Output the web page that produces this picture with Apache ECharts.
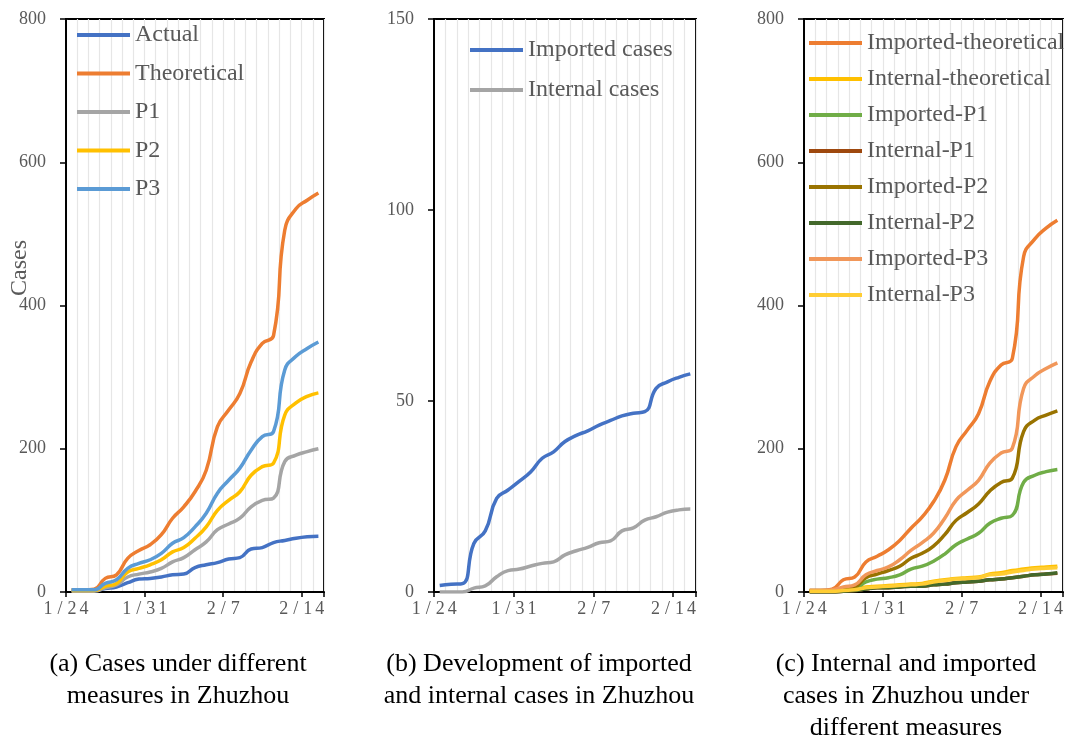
<!DOCTYPE html>
<html>
<head>
<meta charset="utf-8">
<script src="https://cdn.jsdelivr.net/npm/echarts@6/dist/echarts.min.js"></script>
<style>
html,body{margin:0;padding:0;background:#fff;}
#chart{width:1070px;height:738px;}
</style>
</head>
<body>
<div id="chart"></div>
<script>
// ---- data ----
const dates = ['1/24','1/25','1/26','1/27','1/28','1/29','1/30','1/31','2/1','2/2','2/3','2/4','2/5','2/6','2/7','2/8','2/9','2/10','2/11','2/12','2/13','2/14','2/15'];

// (a) Cases under different measures
const actual      = [2,2,2,5,7,13,18,19,21,24,25,34,38,41,46,48,60,62,69,72,75,77,78];
const theoretical = [3,3,4,19,24,47,58,66,80,103,119,140,170,231,254,277,321,347,358,505,535,547,557];
const p1          = [1,1,1,6,10,21,25,28,33,42,48,59,70,87,95,103,119,128,131,182,191,196,200];
const p2          = [2,2,2,8,12,28,33,38,45,56,62,75,91,114,128,140,163,175,180,247,264,273,278];
const p3          = [3,3,3,12,17,33,40,45,54,68,76,91,110,138,156,173,198,217,224,310,329,340,349];

// (b) Imported and internal cases
const importedCases = [1.7,2,2.2,12.7,16,24.5,26.7,29,31.5,35,36.7,39.4,41,42.2,43.7,44.9,46.1,46.8,47.2,53.3,55,56.2,57.1];
const internalCases = [0,0,0,1,1.6,4,5.6,6,6.8,7.5,7.9,9.7,10.8,11.7,12.9,13.4,16,16.8,18.8,19.7,20.9,21.5,21.7];

// (c) Internal and imported cases under different measures
const impTheo = [2,2,4,17,21,42,50,59,72,89,105,126,156,203,226,249,294,317,326,468,493,508,519];
const intTheo = [1,1,1,2,3,7,8,9,10,11,12,15,17,19,20,21,25,27,30,32,34,35,36];
const impP1   = [1,1,1,4,5,14,18,20,24,32,36,43,53,66,74,82,96,103,107,153,163,168,171];
const intP1   = [0,0,0,1,2,4,6,6,7,8,8,10,11,13,14,15,17,18,20,22,24,25,26];
const impP2   = [2,2,2,5,7,20,25,30,36,47,54,64,80,100,111,123,141,153,159,224,240,247,253];
const intP2   = [0,0,0,1,2,4,6,6,7,8,8,10,11,13,14,15,17,18,20,22,24,25,27];
const impP3   = [2,2,3,7,10,24,30,35,45,58,69,82,103,128,142,156,180,194,201,284,302,312,320];
const intP3   = [1,1,1,2,3,6,7,8,9,10,11,14,16,18,19,20,24,25,28,30,32,33,34];

// tick settings
const yMaxA = 800, yIntA = 200;
const yMaxB = 150, yIntB = 50;
const yMaxC = 800, yIntC = 200;

const captions = [
  '(a) Cases under different\nmeasures in Zhuzhou',
  '(b) Development of imported\nand internal cases in Zhuzhou',
  '(c) Internal and imported\ncases in Zhuzhou under\ndifferent measures'
];

// ---- chart ----
const FONT = '"Liberation Serif", "Times New Roman", serif';
const GRAY = '#595959';

const grids = [
  {left: 66, top: 19, width: 258, height: 573},
  {left: 434, top: 19, width: 262, height: 573},
  {left: 804, top: 19, width: 259, height: 573}
];

function xAxis(i) {
  return {
    type: 'category', gridIndex: i, data: dates, boundaryGap: true,
    axisLine: {show: true, lineStyle: {color: '#000', width: 2}},
    axisTick: {show: true, interval: 6, length: 5, lineStyle: {color: '#000', width: 1.5}},
    axisLabel: {
      interval: 6, margin: 8, color: GRAY, fontFamily: FONT, fontSize: 18,
      padding: [0, 11, 0, 0],
      formatter: function (v) { return v.split('').map(c => '{c|' + c + '}').join(''); },
      rich: {c: {width: 12, align: 'center', color: GRAY, fontFamily: FONT, fontSize: 18}}
    },
    splitLine: {show: true, interval: 0, lineStyle: {color: '#e6e6e6', width: 1.2}}
  };
}
function yAxis(i, max, interval) {
  return {
    type: 'value', gridIndex: i, min: 0, max: max, interval: interval,
    axisLine: {show: true, lineStyle: {color: '#000', width: 2}},
    axisTick: {show: true, length: 6, lineStyle: {color: '#000', width: 1.5}},
    axisLabel: {margin: 20, color: GRAY, fontFamily: FONT, fontSize: 18},
    splitLine: {show: false}
  };
}
function line(name, data, color, gi) {
  return {
    name: name, type: 'line', data: data, xAxisIndex: gi, yAxisIndex: gi,
    smooth: true, symbol: 'none', showSymbol: false,
    lineStyle: {color: color, width: 3.5}, itemStyle: {color: color},
    emphasis: {disabled: true}
  };
}
function legend(names, left, top, gap) {
  return {
    data: names, orient: 'vertical', left: left, top: top, padding: 0,
    itemGap: gap, itemWidth: 53, itemHeight: 4, icon: 'rect', selectedMode: false,
    textStyle: {color: GRAY, fontFamily: FONT, fontSize: 24, lineHeight: 26}
  };
}

const option = {
  animation: false,
  backgroundColor: '#fff',
  grid: grids.map(g => Object.assign({show: true, borderColor: '#000', borderWidth: 2, backgroundColor: 'transparent'}, g)),
  xAxis: [xAxis(0), xAxis(1), xAxis(2)],
  yAxis: [yAxis(0, yMaxA, yIntA), yAxis(1, yMaxB, yIntB), yAxis(2, yMaxC, yIntC)],
  legend: [
    legend(['Actual','Theoretical','P1','P2','P3'], 77, 22, 12.5),
    legend(['Imported cases','Internal cases'], 470, 37, 14),
    legend(['Imported-theoretical','Internal-theoretical','Imported-P1','Internal-P1','Imported-P2','Internal-P2','Imported-P3','Internal-P3'], 809, 30, 10)
  ],
  series: [
    line('Actual', actual, '#4472C4', 0),
    line('Theoretical', theoretical, '#ED7D31', 0),
    line('P1', p1, '#A5A5A5', 0),
    line('P2', p2, '#FFC000', 0),
    line('P3', p3, '#5B9BD5', 0),
    line('Imported cases', importedCases, '#4472C4', 1),
    line('Internal cases', internalCases, '#A5A5A5', 1),
    line('Imported-theoretical', impTheo, '#ED7D31', 2),
    line('Internal-theoretical', intTheo, '#FFC000', 2),
    line('Imported-P1', impP1, '#70AD47', 2),
    line('Internal-P1', intP1, '#9E480E', 2),
    line('Imported-P2', impP2, '#997300', 2),
    line('Internal-P2', intP2, '#43682B', 2),
    line('Imported-P3', impP3, '#F1975A', 2),
    line('Internal-P3', intP3, '#FFCD33', 2)
  ],
  graphic: [
    {type: 'text', x: 20, y: 268, rotation: Math.PI / 2,
     style: {text: 'Cases', fill: GRAY, font: '24px ' + FONT, textAlign: 'center', textVerticalAlign: 'middle'}},
    {type: 'text', x: 178, y: 648,
     style: {text: captions[0], fill: '#000', font: '26px ' + FONT, textAlign: 'center', textVerticalAlign: 'top', lineHeight: 32}},
    {type: 'text', x: 539, y: 648,
     style: {text: captions[1], fill: '#000', font: '26px ' + FONT, textAlign: 'center', textVerticalAlign: 'top', lineHeight: 32}},
    {type: 'text', x: 906, y: 648,
     style: {text: captions[2], fill: '#000', font: '26px ' + FONT, textAlign: 'center', textVerticalAlign: 'top', lineHeight: 32}}
  ]
};

const chart = echarts.init(document.getElementById('chart'), null, {renderer: 'canvas'});
chart.setOption(option);
</script>
</body>
</html>
